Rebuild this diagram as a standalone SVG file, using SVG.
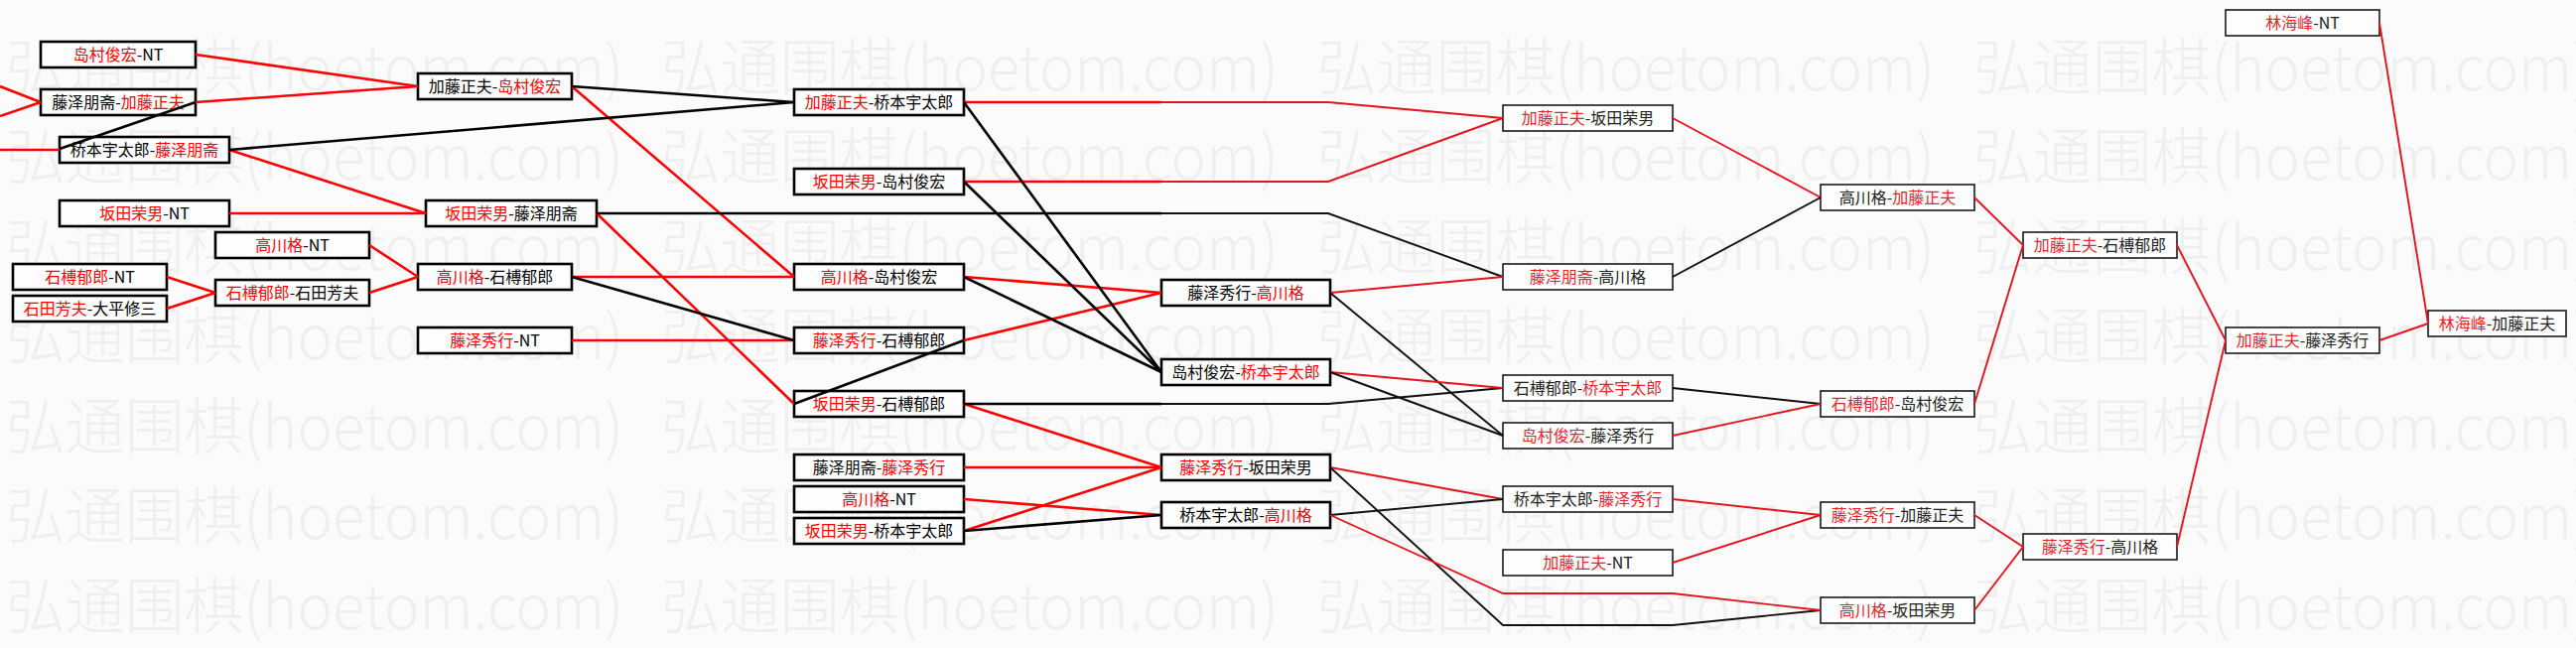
<svg xmlns="http://www.w3.org/2000/svg" xmlns:xlink="http://www.w3.org/1999/xlink" width="2595" height="653" viewBox="0 0 2595 653">
<style>
.wm{font-family:"Noto Sans CJK SC","Liberation Serif",serif;font-size:62px;font-weight:300;fill:#efefef}
.b1{fill:#fdfdfd;stroke:#000;stroke-width:2.6}
.b2{fill:#fdfdfd;stroke:#1a1a1a;stroke-width:1.6}
.t{font-family:"Noto Sans CJK SC","Liberation Sans",sans-serif;font-size:16px;fill:#000;text-anchor:middle}
.t2{fill:#222}
.r{fill:#ff0000}
.r2{fill:#e3262e}
.lr{stroke:#ff0000;stroke-width:2.6;fill:none}
.lk{stroke:#000;stroke-width:2.6;fill:none}
.lr2{stroke:#e3141e;stroke-width:1.9;fill:none}
.lk2{stroke:#111;stroke-width:1.9;fill:none}
</style>
<defs>
<text id="wmt" class="wm" x="0" y="0" textLength="622" lengthAdjust="spacingAndGlyphs">弘通围棋(hoetom.com)</text>
</defs>
<rect x="0" y="0" width="2595" height="653" fill="#fbfbfb"/>
<g id="watermark">
<use xlink:href="#wmt" x="6" y="91"/><use xlink:href="#wmt" x="666" y="91"/><use xlink:href="#wmt" x="1327" y="91"/><use xlink:href="#wmt" x="1988" y="91"/>
<use xlink:href="#wmt" x="6" y="181"/><use xlink:href="#wmt" x="666" y="181"/><use xlink:href="#wmt" x="1327" y="181"/><use xlink:href="#wmt" x="1988" y="181"/>
<use xlink:href="#wmt" x="6" y="272"/><use xlink:href="#wmt" x="666" y="272"/><use xlink:href="#wmt" x="1327" y="272"/><use xlink:href="#wmt" x="1988" y="272"/>
<use xlink:href="#wmt" x="6" y="362"/><use xlink:href="#wmt" x="666" y="362"/><use xlink:href="#wmt" x="1327" y="362"/><use xlink:href="#wmt" x="1988" y="362"/>
<use xlink:href="#wmt" x="6" y="453"/><use xlink:href="#wmt" x="666" y="453"/><use xlink:href="#wmt" x="1327" y="453"/><use xlink:href="#wmt" x="1988" y="453"/>
<use xlink:href="#wmt" x="6" y="543"/><use xlink:href="#wmt" x="666" y="543"/><use xlink:href="#wmt" x="1327" y="543"/><use xlink:href="#wmt" x="1988" y="543"/>
<use xlink:href="#wmt" x="6" y="634"/><use xlink:href="#wmt" x="666" y="634"/><use xlink:href="#wmt" x="1327" y="634"/><use xlink:href="#wmt" x="1988" y="634"/>
</g>
<g id="nodes">
<g id="n1"><rect class="b1" x="41" y="42" width="156" height="26"/><text class="t" x="119" y="61"><tspan class="r">岛村俊宏</tspan>-NT</text></g>
<g id="n2"><rect class="b1" x="41" y="90" width="156" height="26"/><text class="t" x="119" y="109">藤泽朋斋-<tspan class="r">加藤正夫</tspan></text></g>
<g id="n3"><rect class="b1" x="60" y="138" width="171" height="26"/><text class="t" x="145.5" y="157">桥本宇太郎-<tspan class="r">藤泽朋斋</tspan></text></g>
<g id="n4"><rect class="b1" x="60" y="202" width="171" height="26"/><text class="t" x="145.5" y="221"><tspan class="r">坂田荣男</tspan>-NT</text></g>
<g id="n5"><rect class="b1" x="217" y="234" width="155" height="26"/><text class="t" x="294.5" y="253"><tspan class="r">高川格</tspan>-NT</text></g>
<g id="n6"><rect class="b1" x="13" y="266" width="155" height="26"/><text class="t" x="90.5" y="285"><tspan class="r">石榑郁郎</tspan>-NT</text></g>
<g id="n7"><rect class="b1" x="13" y="298" width="155" height="26"/><text class="t" x="90.5" y="317"><tspan class="r">石田芳夫</tspan>-大平修三</text></g>
<g id="n8"><rect class="b1" x="217" y="282" width="155" height="26"/><text class="t" x="294.5" y="301"><tspan class="r">石榑郁郎</tspan>-石田芳夫</text></g>
<g id="n9"><rect class="b1" x="421" y="74" width="155" height="26"/><text class="t" x="498.5" y="93">加藤正夫-<tspan class="r">岛村俊宏</tspan></text></g>
<g id="n10"><rect class="b1" x="429" y="202" width="172" height="26"/><text class="t" x="515" y="221"><tspan class="r">坂田荣男</tspan>-藤泽朋斋</text></g>
<g id="n11"><rect class="b1" x="421" y="266" width="155" height="26"/><text class="t" x="498.5" y="285"><tspan class="r">高川格</tspan>-石榑郁郎</text></g>
<g id="n12"><rect class="b1" x="421" y="330" width="155" height="26"/><text class="t" x="498.5" y="349"><tspan class="r">藤泽秀行</tspan>-NT</text></g>
<g id="n13"><rect class="b1" x="800" y="90" width="171" height="26"/><text class="t" x="885.5" y="109"><tspan class="r">加藤正夫</tspan>-桥本宇太郎</text></g>
<g id="n14"><rect class="b1" x="800" y="170" width="171" height="26"/><text class="t" x="885.5" y="189"><tspan class="r">坂田荣男</tspan>-岛村俊宏</text></g>
<g id="n15"><rect class="b1" x="800" y="266" width="171" height="26"/><text class="t" x="885.5" y="285"><tspan class="r">高川格</tspan>-岛村俊宏</text></g>
<g id="n16"><rect class="b1" x="800" y="330" width="171" height="26"/><text class="t" x="885.5" y="349"><tspan class="r">藤泽秀行</tspan>-石榑郁郎</text></g>
<g id="n17"><rect class="b1" x="800" y="394" width="171" height="26"/><text class="t" x="885.5" y="413"><tspan class="r">坂田荣男</tspan>-石榑郁郎</text></g>
<g id="n18"><rect class="b1" x="800" y="458" width="171" height="26"/><text class="t" x="885.5" y="477">藤泽朋斋-<tspan class="r">藤泽秀行</tspan></text></g>
<g id="n19"><rect class="b1" x="800" y="490" width="171" height="26"/><text class="t" x="885.5" y="509"><tspan class="r">高川格</tspan>-NT</text></g>
<g id="n20"><rect class="b1" x="800" y="522" width="171" height="26"/><text class="t" x="885.5" y="541"><tspan class="r">坂田荣男</tspan>-桥本宇太郎</text></g>
<g id="n21"><rect class="b1" x="1170" y="282" width="170" height="26"/><text class="t" x="1255" y="301">藤泽秀行-<tspan class="r">高川格</tspan></text></g>
<g id="n22"><rect class="b1" x="1170" y="362" width="170" height="26"/><text class="t" x="1255" y="381">岛村俊宏-<tspan class="r">桥本宇太郎</tspan></text></g>
<g id="n23"><rect class="b1" x="1170" y="458" width="170" height="26"/><text class="t" x="1255" y="477"><tspan class="r">藤泽秀行</tspan>-坂田荣男</text></g>
<g id="n24"><rect class="b1" x="1170" y="506" width="170" height="26"/><text class="t" x="1255" y="525">桥本宇太郎-<tspan class="r">高川格</tspan></text></g>
<g id="n25"><rect class="b2" x="1514" y="106" width="171" height="26"/><text class="t t2" x="1599.5" y="125"><tspan class="r2">加藤正夫</tspan>-坂田荣男</text></g>
<g id="n26"><rect class="b2" x="1514" y="266" width="171" height="26"/><text class="t t2" x="1599.5" y="285"><tspan class="r2">藤泽朋斋</tspan>-高川格</text></g>
<g id="n27"><rect class="b2" x="1514" y="378" width="171" height="26"/><text class="t t2" x="1599.5" y="397">石榑郁郎-<tspan class="r2">桥本宇太郎</tspan></text></g>
<g id="n28"><rect class="b2" x="1514" y="426" width="171" height="26"/><text class="t t2" x="1599.5" y="445"><tspan class="r2">岛村俊宏</tspan>-藤泽秀行</text></g>
<g id="n29"><rect class="b2" x="1514" y="490" width="171" height="26"/><text class="t t2" x="1599.5" y="509">桥本宇太郎-<tspan class="r2">藤泽秀行</tspan></text></g>
<g id="n30"><rect class="b2" x="1514" y="554" width="171" height="26"/><text class="t t2" x="1599.5" y="573"><tspan class="r2">加藤正夫</tspan>-NT</text></g>
<g id="n31"><rect class="b2" x="1834" y="186" width="155" height="26"/><text class="t t2" x="1911.5" y="205">高川格-<tspan class="r2">加藤正夫</tspan></text></g>
<g id="n32"><rect class="b2" x="1834" y="394" width="155" height="26"/><text class="t t2" x="1911.5" y="413"><tspan class="r2">石榑郁郎</tspan>-岛村俊宏</text></g>
<g id="n33"><rect class="b2" x="1834" y="506" width="155" height="26"/><text class="t t2" x="1911.5" y="525"><tspan class="r2">藤泽秀行</tspan>-加藤正夫</text></g>
<g id="n34"><rect class="b2" x="1834" y="602" width="155" height="26"/><text class="t t2" x="1911.5" y="621"><tspan class="r2">高川格</tspan>-坂田荣男</text></g>
<g id="n35"><rect class="b2" x="2038" y="234" width="155" height="26"/><text class="t t2" x="2115.5" y="253"><tspan class="r2">加藤正夫</tspan>-石榑郁郎</text></g>
<g id="n36"><rect class="b2" x="2038" y="538" width="155" height="26"/><text class="t t2" x="2115.5" y="557"><tspan class="r2">藤泽秀行</tspan>-高川格</text></g>
<g id="n37"><rect class="b2" x="2242" y="10" width="155" height="26"/><text class="t t2" x="2319.5" y="29"><tspan class="r2">林海峰</tspan>-NT</text></g>
<g id="n38"><rect class="b2" x="2242" y="330" width="155" height="26"/><text class="t t2" x="2319.5" y="349"><tspan class="r2">加藤正夫</tspan>-藤泽秀行</text></g>
<g id="n39"><rect class="b2" x="2446" y="313" width="139" height="26"/><text class="t t2" x="2515.5" y="332"><tspan class="r2">林海峰</tspan>-加藤正夫</text></g>
</g>
<g id="connectors">
<polyline class="lr" points="0,87 41,103"/>
<polyline class="lr" points="0,117 41,103"/>
<polyline class="lr" points="0,151 60,151"/>
<polyline class="lr" points="197,55 421,87"/>
<polyline class="lr" points="197,103 421,87"/>
<polyline class="lr" points="231,151 429,215"/>
<polyline class="lr" points="231,215 429,215"/>
<polyline class="lr" points="372,247 421,279"/>
<polyline class="lr" points="372,295 421,279"/>
<polyline class="lr" points="168,279 217,295"/>
<polyline class="lr" points="168,311 217,295"/>
<polyline class="lr" points="576,87 800,279"/>
<polyline class="lr" points="601,215 800,407"/>
<polyline class="lr" points="576,279 800,279"/>
<polyline class="lr" points="576,343 800,343"/>
<polyline class="lr" points="971,343 1170,295"/>
<polyline class="lr" points="971,279 1170,295"/>
<polyline class="lr" points="971,407 1170,471"/>
<polyline class="lr" points="971,471 1170,471"/>
<polyline class="lr" points="971,503 1170,519"/>
<polyline class="lr" points="971,535 1170,471"/>
<polyline class="lr" points="971,103 1170,103"/>
<polyline class="lr2" points="1170,103 1338,103 1514,119"/>
<polyline class="lr" points="971,183 1170,183"/>
<polyline class="lr2" points="1170,183 1338,183 1514,119"/>
<polyline class="lk" points="197,103 60,150"/>
<polyline class="lk" points="231,151 800,103"/>
<polyline class="lk" points="576,87 800,103"/>
<polyline class="lk" points="576,279 800,343"/>
<polyline class="lk" points="971,343 800,407"/>
<polyline class="lk" points="971,279 1170,375"/>
<polyline class="lk" points="971,103 1170,375"/>
<polyline class="lk" points="971,183 1170,375"/>
<polyline class="lk" points="971,535 1170,519"/>
<polyline class="lk" points="601,215 1170,215"/>
<polyline class="lk2" points="1170,215 1338,215 1514,279"/>
<polyline class="lk" points="971,407 1170,407"/>
<polyline class="lk2" points="1170,407 1338,407 1514,391"/>
<polyline class="lr2" points="1340,295 1514,279"/>
<polyline class="lk2" points="1340,295 1514,439"/>
<polyline class="lr2" points="1340,375 1514,391"/>
<polyline class="lk2" points="1340,375 1514,439"/>
<polyline class="lr2" points="1340,471 1514,503"/>
<polyline class="lk2" points="1340,471 1514,630 1685,630 1834,615"/>
<polyline class="lk2" points="1340,519 1514,503"/>
<polyline class="lr2" points="1340,519 1514,598 1685,598 1834,615"/>
<polyline class="lr2" points="1685,119 1834,199"/>
<polyline class="lk2" points="1685,279 1834,199"/>
<polyline class="lk2" points="1685,391 1834,407"/>
<polyline class="lr2" points="1685,439 1834,407"/>
<polyline class="lr2" points="1685,503 1834,519"/>
<polyline class="lr2" points="1685,567 1834,519"/>
<polyline class="lr2" points="1989,199 2038,247"/>
<polyline class="lr2" points="1989,407 2038,247"/>
<polyline class="lr2" points="1989,519 2038,551"/>
<polyline class="lr2" points="1989,615 2038,551"/>
<polyline class="lr2" points="2193,247 2242,343"/>
<polyline class="lr2" points="2193,551 2242,343"/>
<polyline class="lr2" points="2397,343 2446,326"/>
<polyline class="lr2" points="2397,23 2446,326"/>
</g>
</svg>
